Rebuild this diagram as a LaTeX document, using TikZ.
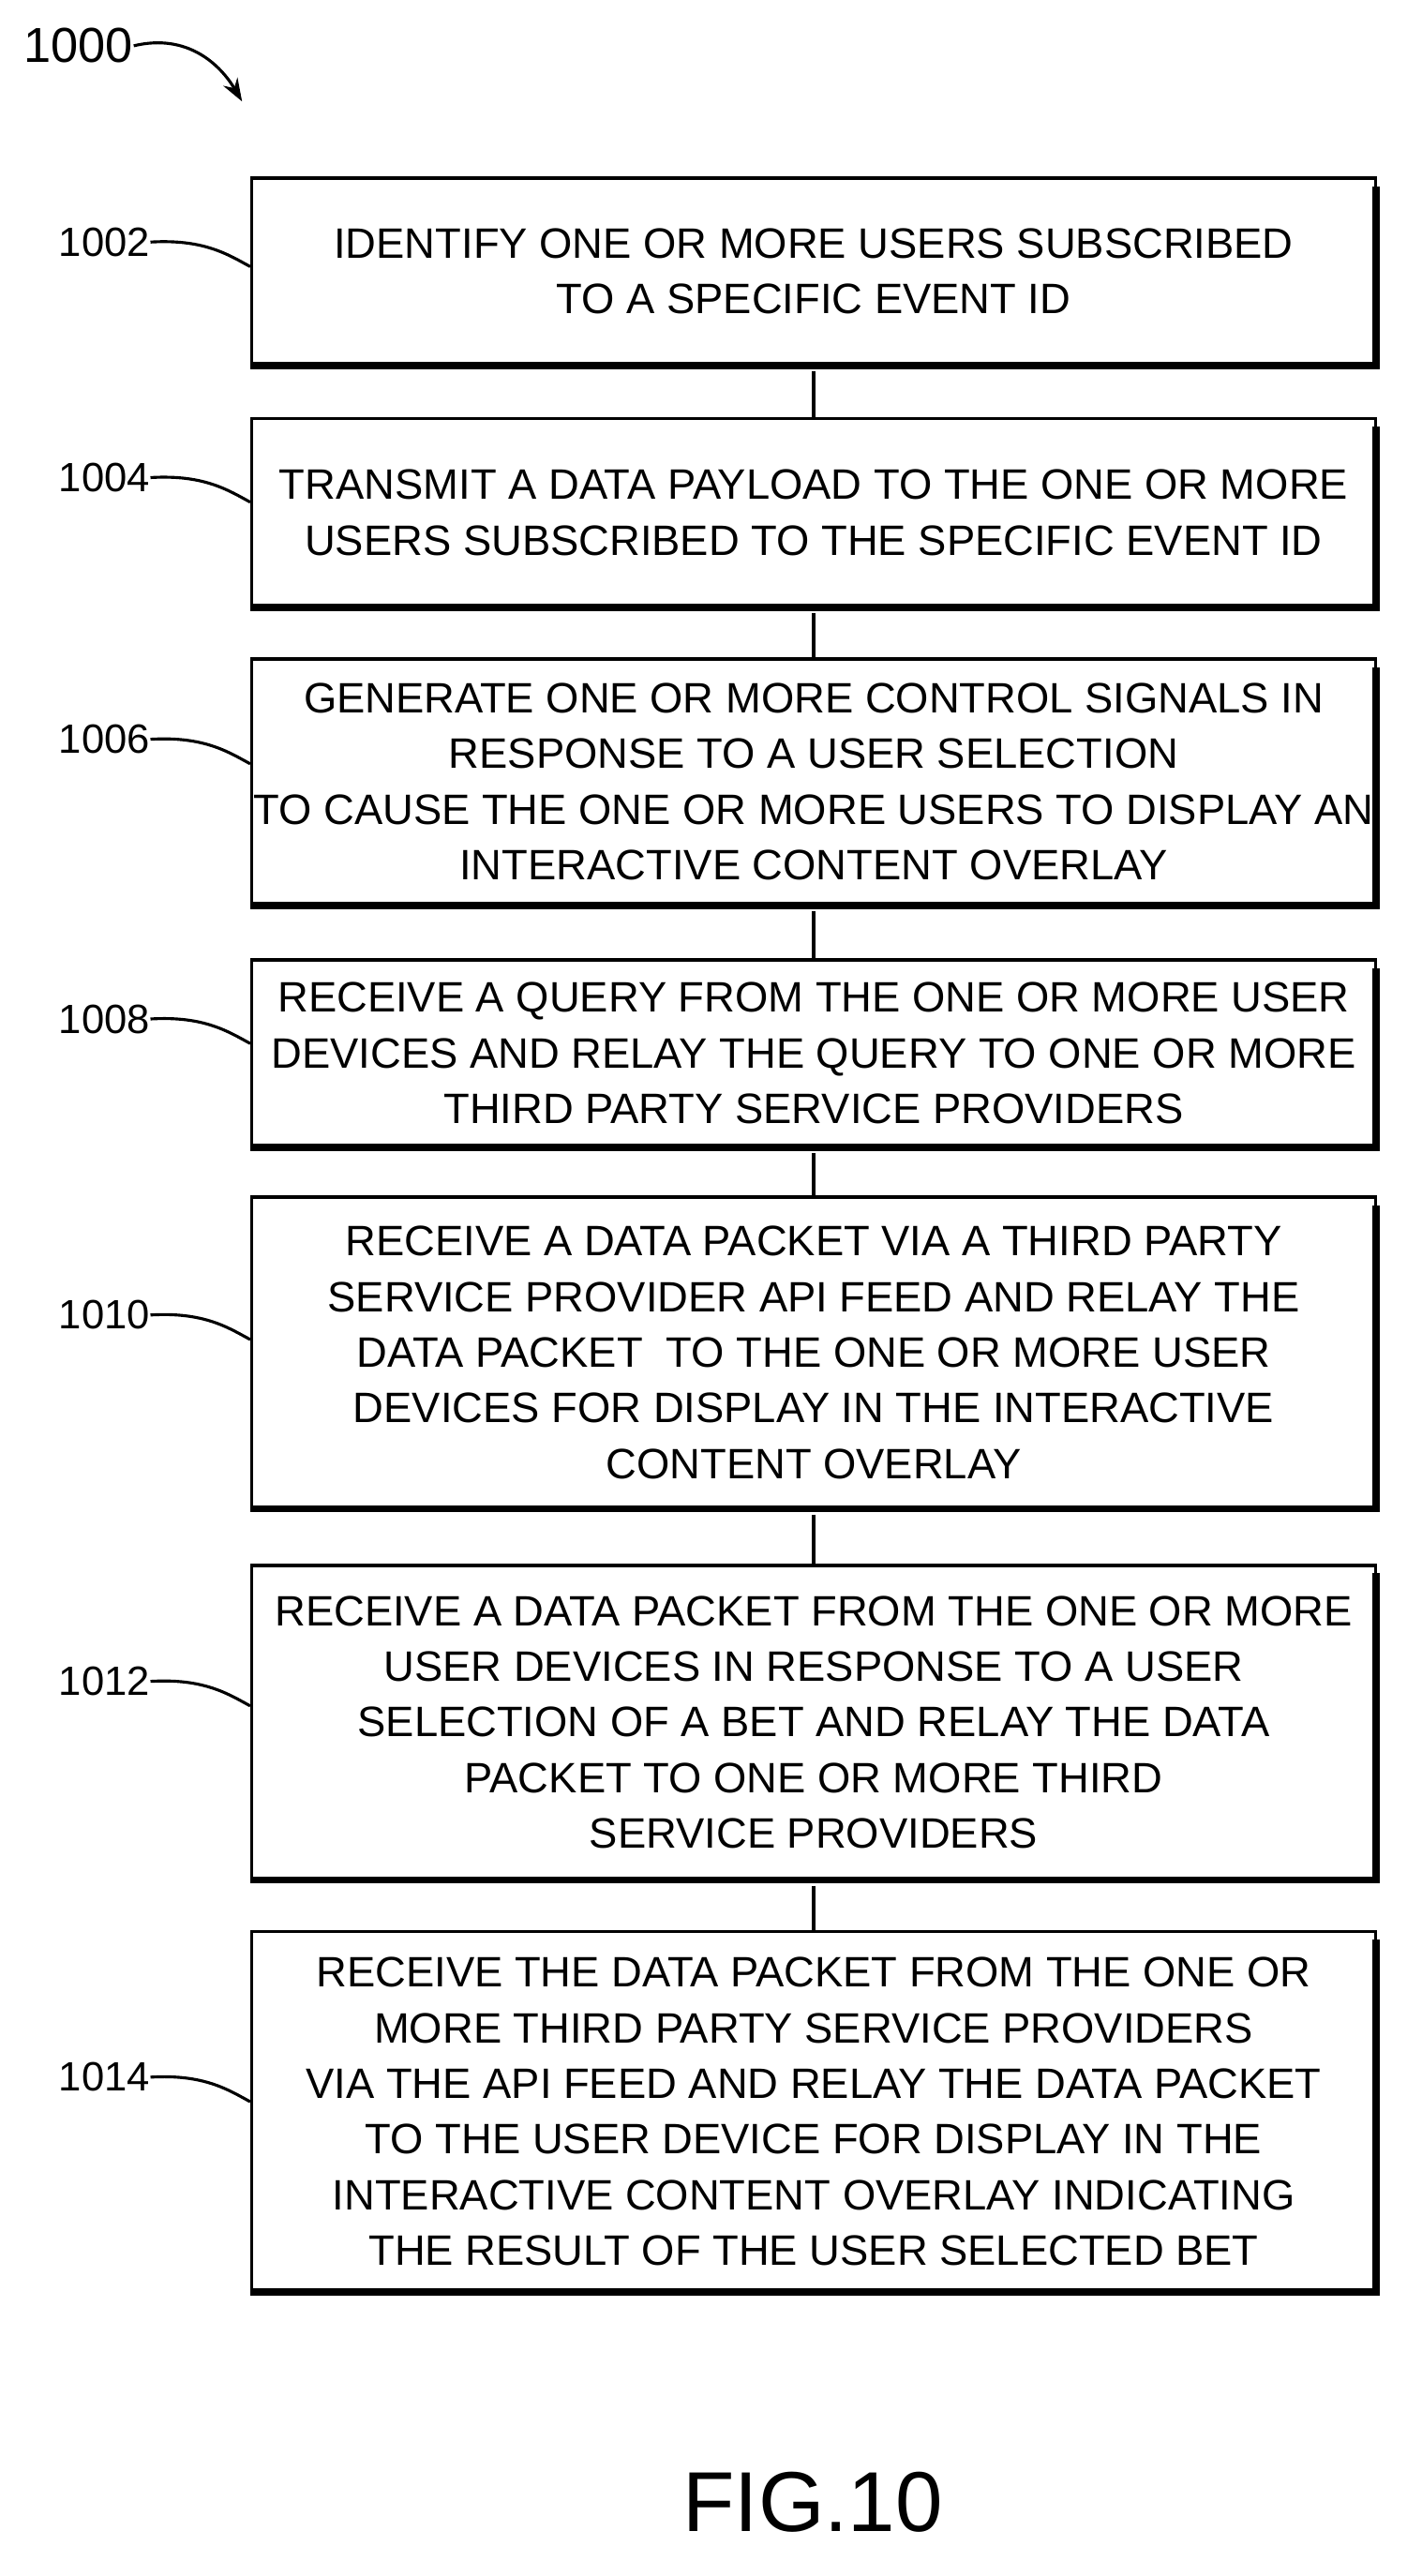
\documentclass[tikz,border=0pt]{standalone}
\usepackage{fontspec}
\usetikzlibrary{arrows.meta}
\setmainfont{Liberation Sans}
\begin{document}
\begin{tikzpicture}[x=0.5pt,y=-0.5pt,
  box/.style={draw,line width=1pt,minimum width=343.5pt,inner sep=0pt,align=center,font=\fontsize{13}{17}\selectfont,anchor=north west},
  lbl/.style={font=\fontsize{12.5}{14}\selectfont,anchor=east,inner sep=0pt},
  conn/.style={line width=0.9pt},
  lead/.style={line width=0.9pt},
  shadow/.style={line width=2.2pt}]
\useasboundingbox (0,0) rectangle (860,1575);
\newcommand{\mybox}[7]{% name, top, bottom, labelname, label, label y, text
  \node[box,minimum height=#3*0.5pt-#2*0.5pt] (#1) at (153,#2) {#7};
  \draw[shadow] (841.5,#2+6) -- (841.5,#3+1.5) -- (153,#3+1.5);
  \node[lbl] (#4) at (92,#6) {#5};
  \draw[lead] (#4.east) .. controls (125,#6-2) and (140,#6+8) .. (#1.west |- 0,#6+15);
}
\mybox{b1}{108}{222}{l1}{1002}{148}{IDENTIFY ONE OR MORE USERS SUBSCRIBED\\TO A SPECIFIC EVENT ID}
\mybox{b2}{255}{370}{l2}{1004}{292}{TRANSMIT A DATA PAYLOAD TO THE ONE OR MORE\\USERS SUBSCRIBED TO THE SPECIFIC EVENT ID}
\mybox{b3}{402}{552}{l3}{1006}{452}{GENERATE ONE OR MORE CONTROL SIGNALS IN\\RESPONSE TO A USER SELECTION\\TO CAUSE THE ONE OR MORE USERS TO DISPLAY AN\\INTERACTIVE CONTENT OVERLAY}
\mybox{b4}{586}{700}{l4}{1008}{623}{RECEIVE A QUERY FROM THE ONE OR MORE USER\\DEVICES AND RELAY THE QUERY TO ONE OR MORE\\THIRD PARTY SERVICE PROVIDERS}
\mybox{b5}{731}{921}{l5}{1010}{804}{RECEIVE A DATA PACKET VIA A THIRD PARTY\\SERVICE PROVIDER API FEED AND RELAY THE\\DATA PACKET\ \ TO THE ONE OR MORE USER\\DEVICES FOR DISPLAY IN THE INTERACTIVE\\CONTENT OVERLAY}
\mybox{b6}{956}{1148}{l6}{1012}{1028}{RECEIVE A DATA PACKET FROM THE ONE OR MORE\\USER DEVICES IN RESPONSE TO A USER\\SELECTION OF A BET AND RELAY THE DATA\\PACKET TO ONE OR MORE THIRD\\SERVICE PROVIDERS}
\mybox{b7}{1180}{1400}{l7}{1014}{1270}{RECEIVE THE DATA PACKET FROM THE ONE OR\\MORE THIRD PARTY SERVICE PROVIDERS\\VIA THE API FEED AND RELAY THE DATA PACKET\\TO THE USER DEVICE FOR DISPLAY IN THE\\INTERACTIVE CONTENT OVERLAY INDICATING\\THE RESULT OF THE USER SELECTED BET}
\foreach \a/\b in {b1/b2,b2/b3,b3/b4,b4/b5,b5/b6,b6/b7}
  \draw[conn] ([yshift=-1.5pt]\a.south) -- (\b.north);
\node[font=\fontsize{15}{17}\selectfont,inner sep=0pt] (top) at (48,28) {1000};
\coordinate (tip) at (148,62);
\draw[lead,-{Stealth[length=7pt,width=5pt]}] (top.east) .. controls (115,20) and (135,40) .. (tip);
\node[font=\fontsize{26}{30}\selectfont,inner sep=0pt] (fig) at (497,1530) {FIG.10};
\end{tikzpicture}
\end{document}
